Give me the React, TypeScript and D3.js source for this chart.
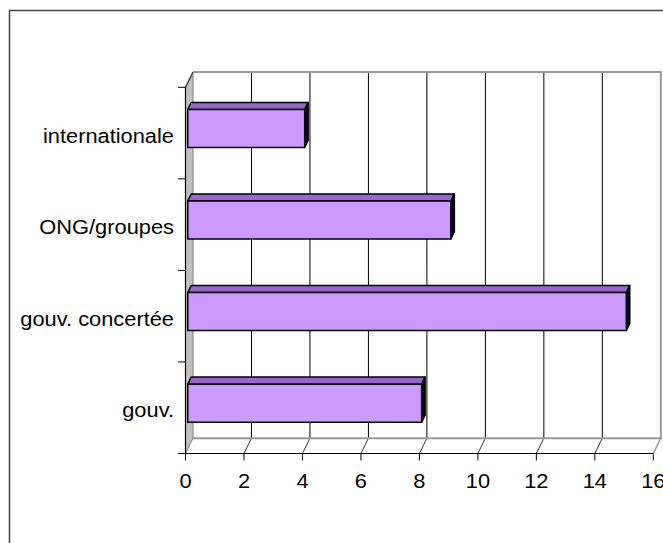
import React from "react";
import * as d3 from "d3";

// Categories listed top to bottom as shown on the vertical axis
const categories = ["internationale", "ONG/groupes", "gouv. concertée", "gouv."];
const values = [4, 9, 15, 8];
const xTicks = [0, 2, 4, 6, 8, 10, 12, 14, 16];

const W = 663;
const H = 543;

// 3D projection: offset of the back plane relative to the front plane
const DX = 7.5;
const DY = 15.3;
const BAR_D1 = 0.3; // depth of bar front face
const BAR_D2 = 0.76; // depth of bar back face

const FONT = "'Liberation Sans', Arial, sans-serif";
const FS = 19.5;
const SX = 1.12;

export default function App() {
  const x = d3.scaleLinear().domain([0, 16]).range([185.5, 653.3]);
  const y = d3.scaleBand<string>().domain(categories).range([87.3, 453.5]).padding(0);
  const bw = y.bandwidth();
  const barH = bw * 0.415;

  const yTop = y.range()[0];
  const yBot = y.range()[1];
  const x0 = x(0);
  const x16 = x(16);

  const pts = (p: [number, number][]) => p.map((q) => q.join(",")).join(" ");

  return (
    <svg
      width={W}
      height={H}
      style={{ position: "absolute", left: 0, top: 0, background: "#fff" }}
    >
      <rect x={9.5} y={10.5} width={800} height={800} fill="#fff" stroke="#404040" strokeWidth={1.5} />

      {/* left wall */}
      <polygon
        points={pts([
          [x0, yTop],
          [x0 + DX, yTop - DY],
          [x0 + DX, yBot - DY],
          [x0, yBot],
        ])}
        fill="#c0c0c0"
        stroke="#808080"
        strokeWidth={1}
      />
      <line x1={x0} y1={yTop} x2={x0 + DX} y2={yTop - DY} stroke="#333" strokeWidth={1.2} />

      {/* back wall gridlines */}
      {xTicks.slice(1, -1).map((t) => (
        <g key={"g" + t}>
          <line x1={x(t) + DX} y1={yTop - DY} x2={x(t) + DX} y2={yBot - DY} stroke="#000" strokeWidth={1} />
          <line x1={x(t) + DX} y1={yBot - DY} x2={x(t)} y2={yBot} stroke="#333" strokeWidth={1} />
        </g>
      ))}

      {/* back wall outline and floor */}
      <polyline
        points={pts([
          [x0 + DX, yTop - DY],
          [x16 + DX, yTop - DY],
          [x16 + DX, yBot - DY],
          [x0 + DX, yBot - DY],
        ])}
        fill="none"
        stroke="#999"
        strokeWidth={2}
      />
      <line x1={x16 + DX} y1={yBot - DY} x2={x16} y2={yBot} stroke="#999" strokeWidth={1.5} />

      {/* bars */}
      {categories.map((c, i) => {
        const v = values[i];
        const cy = (y(c) as number) + bw / 2;
        const t = cy - barH / 2;
        const b = cy + barH / 2;
        const xa = x(0);
        const xb = x(v);
        const s1x = BAR_D1 * DX;
        const s1y = BAR_D1 * DY;
        const s2x = BAR_D2 * DX;
        const s2y = BAR_D2 * DY;
        return (
          <g key={c} stroke="#000" strokeWidth={1.5} strokeLinejoin="round">
            <polygon
              points={pts([
                [xa + s1x, t - s1y],
                [xa + s2x, t - s2y],
                [xb + s2x, t - s2y],
                [xb + s1x, t - s1y],
              ])}
              fill="#9966CC"
            />
            <polygon
              points={pts([
                [xb + s1x, t - s1y],
                [xb + s2x, t - s2y],
                [xb + s2x, b - s2y],
                [xb + s1x, b - s1y],
              ])}
              fill="#0d0019"
            />
            <rect x={xa + s1x} y={t - s1y} width={xb - xa} height={barH} fill="#CC99FF" />
          </g>
        );
      })}

      {/* category axis */}
      <line x1={x0} y1={yTop} x2={x0} y2={yBot} stroke="#000" strokeWidth={1.2} />
      {[...categories.map((c) => y(c) as number), yBot].map((v, i) => (
        <line key={"ct" + i} x1={x0 - 7.5} y1={v} x2={x0} y2={v} stroke="#000" strokeWidth={1} />
      ))}
      {categories.map((c) => (
        <text
          key={"cl" + c}
          transform={`translate(174,${(y(c) as number) + bw / 2 + 9.7}) scale(${SX},1)`}
          textAnchor="end"
          fontFamily={FONT}
          fontSize={FS}
          fill="#000"
        >
          {c}
        </text>
      ))}

      {/* value axis */}
      <line x1={x0 - 7.5} y1={yBot} x2={x16} y2={yBot} stroke="#000" strokeWidth={1.2} />
      {xTicks.map((t) => (
        <g key={"xt" + t}>
          <line x1={x(t)} y1={yBot} x2={x(t)} y2={yBot + 7} stroke="#000" strokeWidth={1} />
          <text
            transform={`translate(${x(t)},488.3) scale(${SX},1)`}
            textAnchor="middle"
            fontFamily={FONT}
            fontSize={FS}
            fill="#000"
          >
            {t}
          </text>
        </g>
      ))}
    </svg>
  );
}
